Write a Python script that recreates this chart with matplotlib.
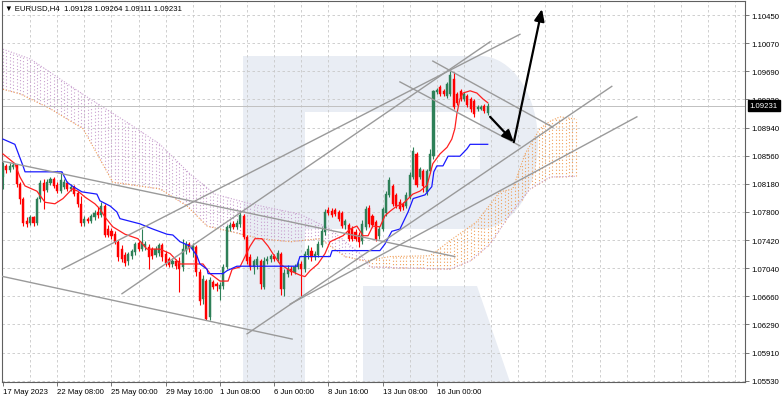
import numpy as np
import matplotlib
matplotlib.use('Agg')
import matplotlib.pyplot as plt
from matplotlib.patches import Rectangle, Polygon, Ellipse
from matplotlib.transforms import blended_transform_factory

plt.rcParams['font.family'] = ['Liberation Sans', 'DejaVu Sans']

# ---------------- data ----------------
opens = [1.0827,1.0842,1.0837,1.0841,1.0843,1.0818,1.0798,1.0768,1.0765,1.0773,
         1.0765,1.0798,1.0819,1.0810,1.0819,1.0824,1.0816,1.0808,1.0814,1.0819,
         1.0811,1.0814,1.0806,1.0791,1.0765,1.0771,1.0768,1.0773,1.0780,1.0776,
         1.0788,1.0757,1.0754,1.0750,1.0740,1.0730,1.0722,1.0714,1.0721,1.0726,
         1.0738,1.0730,1.0733,1.0733,1.0730,1.0722,1.0725,1.0736,1.0724,1.0717,
         1.0710,1.0714,1.0714,1.0706,1.0728,1.0737,1.0730,1.0733,1.0699,1.0663,
         1.0687,1.0639,1.0686,1.0683,1.0676,1.0680,1.0706,1.0758,1.0764,1.0760,
         1.0764,1.0775,1.0746,1.0720,1.0706,1.0709,1.0714,1.0679,1.0714,1.0717,
         1.0721,1.0717,1.0724,1.0676,1.0697,1.0703,1.0699,1.0706,1.0710,1.0703,
         1.0722,1.0728,1.0720,1.0722,1.0736,1.0753,1.0783,1.0781,1.0783,1.0780,
         1.0779,1.0763,1.0763,1.0757,1.0753,1.0749,1.0741,1.0760,1.0785,1.0775,
         1.0767,1.0748,1.0757,1.0779,1.0803,1.0815,1.0803,1.0793,1.0791,1.0788,
         1.0800,1.0827,1.0858,1.0827,1.0835,1.0807,1.0835,1.0855,1.0941,1.0948,
         1.0943,1.0936,1.0939,1.0959,1.0939,1.0943,1.0932,1.0936,1.0932,1.0929,
         1.0919,1.0919,1.0923,1.09128]
highs = [1.0847,1.0845,1.0846,1.0847,1.0845,1.0820,1.0800,1.0773,1.0776,1.0775,
         1.0800,1.0823,1.0824,1.0824,1.0827,1.0827,1.0820,1.0834,1.0824,1.0822,
         1.0818,1.0816,1.0808,1.0802,1.0775,1.0773,1.0777,1.0783,1.0787,1.0793,
         1.0791,1.0763,1.0758,1.0754,1.0742,1.0736,1.0726,1.0726,1.0730,1.0740,
         1.0741,1.0757,1.0741,1.0737,1.0733,1.0734,1.0738,1.0738,1.0728,1.0720,
         1.0718,1.0717,1.0720,1.0744,1.0741,1.0740,1.0738,1.0736,1.0703,1.0695,
         1.0690,1.0693,1.0689,1.0686,1.0686,1.0710,1.0763,1.0767,1.0768,1.0769,
         1.0780,1.0777,1.0749,1.0724,1.0717,1.0721,1.0717,1.0720,1.0721,1.0724,
         1.0724,1.0729,1.0726,1.0703,1.0709,1.0707,1.0710,1.0714,1.0714,1.0728,
         1.0736,1.0733,1.0728,1.0741,1.0760,1.0784,1.0787,1.0785,1.0785,1.0783,
         1.0781,1.0771,1.0765,1.0761,1.0757,1.0753,1.0769,1.0788,1.0789,1.0777,
         1.0769,1.0761,1.0787,1.0808,1.0827,1.0818,1.0806,1.0798,1.0793,1.0807,
         1.0834,1.0867,1.0861,1.0841,1.0838,1.0838,1.0865,1.0944,1.0947,1.0951,
         1.0945,1.0955,1.0970,1.0968,1.0941,1.0945,1.0941,1.0939,1.0935,1.0932,
         1.0924,1.0924,1.0925,1.09264]
lows = [1.0811,1.0832,1.0834,1.0838,1.0814,1.0791,1.0761,1.0760,1.0763,1.0761,
        1.0763,1.0793,1.0784,1.0807,1.0816,1.0812,1.0806,1.0806,1.0811,1.0808,
        1.0808,1.0802,1.0787,1.0761,1.0761,1.0765,1.0765,1.0769,1.0772,1.0773,
        1.0746,1.0746,1.0744,1.0737,1.0714,1.0713,1.0707,1.0709,1.0717,1.0722,
        1.0728,1.0728,1.0729,1.0703,1.0717,1.0720,1.0721,1.0714,1.0707,1.0706,
        1.0706,1.0703,1.0672,1.0701,1.0724,1.0726,1.0720,1.0694,1.0655,1.0656,
        1.0634,1.0634,1.0676,1.0674,1.0662,1.0676,1.0703,1.0754,1.0757,1.0757,
        1.0760,1.0744,1.0710,1.0702,1.0697,1.0703,1.0676,1.0676,1.0710,1.0713,
        1.0714,1.0713,1.0668,1.0667,1.0693,1.0695,1.0697,1.0703,1.0667,1.0699,
        1.0717,1.0714,1.0715,1.0720,1.0733,1.0749,1.0776,1.0773,1.0775,1.0768,
        1.0758,1.0757,1.0741,1.0741,1.0741,1.0733,1.0737,1.0756,1.0760,1.0760,
        1.0741,1.0744,1.0754,1.0775,1.0800,1.0788,1.0785,1.0781,1.0783,1.0785,
        1.0798,1.0824,1.0814,1.0824,1.0807,1.0803,1.0832,1.0851,1.0939,1.0936,
        1.0936,1.0933,1.0936,1.0919,1.0924,1.0929,1.0929,1.0921,1.0915,1.0908,
        1.0916,1.0917,1.0913,1.09111]
closes = [1.0842,1.0837,1.0842,1.0843,1.0818,1.0798,1.0765,1.0764,1.0773,1.0765,
          1.0798,1.0819,1.0808,1.0820,1.0824,1.0815,1.0808,1.0823,1.0820,1.0811,
          1.0814,1.0804,1.0791,1.0765,1.0771,1.0768,1.0775,1.0779,1.0776,1.0788,
          1.0749,1.0749,1.0748,1.0740,1.0720,1.0717,1.0711,1.0724,1.0728,1.0737,
          1.0730,1.0740,1.0737,1.0720,1.0721,1.0730,1.0736,1.0720,1.0711,1.0709,
          1.0714,1.0707,1.0703,1.0730,1.0737,1.0730,1.0734,1.0699,1.0660,1.0690,
          1.0636,1.0689,1.0679,1.0680,1.0682,1.0706,1.0760,1.0763,1.0760,1.0765,
          1.0776,1.0746,1.0714,1.0706,1.0714,1.0717,1.0683,1.0714,1.0717,1.0721,
          1.0717,1.0725,1.0676,1.0698,1.0703,1.0699,1.0706,1.0710,1.0703,1.0724,
          1.0730,1.0720,1.0724,1.0737,1.0754,1.0780,1.0779,1.0776,1.0777,1.0771,
          1.0761,1.0768,1.0744,1.0744,1.0744,1.0740,1.0764,1.0784,1.0764,1.0763,
          1.0744,1.0757,1.0784,1.0804,1.0823,1.0791,1.0788,1.0784,1.0787,1.0803,
          1.0830,1.0862,1.0816,1.0838,1.0815,1.0835,1.0858,1.0943,1.0944,1.0939,
          1.0939,1.0952,1.0964,1.0921,1.0927,1.0932,1.0939,1.0924,1.0919,1.0912,
          1.0921,1.0921,1.0916,1.09231]

# Ichimoku lines (bar index, price)
tenkan_bar = [0,3.5,5,6.5,10,12.4,15.3,17.7,20.4,22.1,24.2,27.1,28.6,30.1,32.4,36,39.8,42.5,46.3,49.3,
              52.2,59,61.1,64,66.4,67.6,69.9,71.4,72.9,74.3,76.4,78.2,79.6,81.7,84.7,87.6,89.1,90.6,
              92.9,95,96.5,100.3,102.4,104.4,106.2,107.7,109.1,111.2,112.7,114.2,116.2,118,120.9,123,
              125.1,126,126.8,128.9,131,132.4,133.3,133.9,134.8,135.7,137.8,139.8,141.6,143]
tenkan_val = [1.0858,1.0845,1.0827,1.0815,1.0808,1.0793,1.0791,1.0798,1.0811,1.0808,1.0800,1.0791,
              1.0784,1.0773,1.0760,1.0750,1.0744,1.0730,1.0730,1.0724,1.0710,1.0710,1.0697,1.0687,
              1.0687,1.0703,1.0706,1.0720,1.0734,1.0744,1.0744,1.0734,1.0724,1.0710,1.0701,1.0695,
              1.0693,1.0701,1.0710,1.0724,1.0740,1.0748,1.0757,1.0761,1.0748,1.0748,1.0761,1.0760,
              1.0775,1.0781,1.0788,1.0791,1.0804,1.0808,1.0816,1.0831,1.0845,1.0858,1.0867,1.0878,
              1.0892,1.0912,1.0932,1.0940,1.0943,1.0940,1.0932,1.0927]
kijun_bar = [0,3.5,5.9,6.5,17.4,18.9,20.4,23.3,27.7,28.6,31.6,33.6,34.5,40.4,44.2,48.4,50.1,52.2,
             55.2,57.2,58.1,60.2,60.5,64.9,66.1,69,86.7,87.6,96.5,97.1,111.2,112.7,114.7,117.1,
             119.5,121,124.5,126.5,127.1,128,129.8,131.3,134.8,136.9,137.8,143]
kijun_val = [1.0878,1.0871,1.0842,1.0834,1.0834,1.0820,1.0815,1.0807,1.0804,1.0795,1.0788,1.0780,
             1.0771,1.0764,1.0757,1.0750,1.0749,1.0740,1.0734,1.0721,1.0710,1.0703,1.0697,1.0697,
             1.0701,1.0707,1.0707,1.0720,1.0720,1.0728,1.0728,1.0737,1.0754,1.0757,1.0780,1.0798,
             1.0803,1.0814,1.0834,1.0842,1.0842,1.0855,1.0855,1.0865,1.0871,1.0871]
spanA_bar = [0,5,13.9,23.6,32.4,46.3,54.3,60.2,67.8,75.8,84.7,93.5,100.9,106.8,114.2,126,132.7,
             139.8,146.6,150.4,154,158.4,161.4,164.3,169]
spanA_val = [1.0945,1.0939,1.0919,1.0892,1.0820,1.0811,1.0788,1.0761,1.0753,1.0744,1.0740,1.0744,
             1.0720,1.0714,1.0720,1.0721,1.0744,1.0767,1.0807,1.0811,1.0858,1.0892,1.0902,1.0908,
             1.0905]
spanB_bar = [0,8,16.8,25.7,37.5,46.3,55.2,62.5,72.9,87.6,96.5,105.3,108.3,131.9,137.8,143.7,
             149.6,155.5,161.4,169]
spanB_val = [1.0999,1.0986,1.0959,1.0932,1.0898,1.0871,1.0831,1.0804,1.0791,1.0777,1.0757,1.0724,
             1.0706,1.0703,1.0714,1.0737,1.0777,1.0811,1.0827,1.0828]

# drawn trend lines: (bar0, price0, bar1, price1)
trend_lines = [(-0.9, 1.0849, 133.3, 1.0720),
               (-0.9, 1.0694, 85.3, 1.0609),
               (17.4, 1.0703, 152.5, 1.1019),
               (35.1, 1.0670, 143.7, 1.1009),
               (72.0, 1.0616, 179.6, 1.0949),
               (84.7, 1.0656, 187.0, 1.0908),
               (126.8, 1.0983, 162.2, 1.0894),
               (117.1, 1.0955, 152.5, 1.0869)]
arrows = [((143.7, 1.0908), (150.7, 1.0874)),
          ((150.7, 1.0874), (159.0, 1.1053))]

price_ticks = ['1.10450','1.10070','1.09690','1.09320','1.08940','1.08560','1.08180',
               '1.07800','1.07420','1.07040','1.06660','1.06290','1.05910','1.05530']
time_tick_bars = [0,16,32,48,64,80,96,112,128]
time_labels = ['17 May 2023','22 May 08:00','25 May 00:00','29 May 16:00','1 Jun 08:00',
               '6 Jun 00:00','8 Jun 16:00','13 Jun 08:00','16 Jun 00:00']
header = '\u25bc EURUSD,H4  1.09128 1.09264 1.09111 1.09231'
last_price = 1.09231

# ---------------- figure ----------------
W, H = 782, 402
fig = plt.figure(figsize=(W/100, H/100), dpi=100)
L_, R_, T_, B_ = 2, 745, 2, 383
ax = fig.add_axes([L_/W, 1 - B_/H, (R_-L_)/W, (B_-T_)/H])
ax.set_xlim(-0.295, 218.9)
ax.set_ylim(1.05512, 1.106384)

# watermark (logo) in axes fraction coordinates
def fx(px): return (px - L_) / (R_ - L_)
def fy(py): return (B_ - py) / (B_ - T_)
wm = '#e9edf4'
ta = ax.transAxes
ax.add_patch(Rectangle((fx(243), fy(383)), fx(305)-fx(243), fy(57)-fy(383), transform=ta,
                       facecolor=wm, edgecolor='none', zorder=0))
ax.add_patch(Rectangle((fx(305), fy(230)), fx(480)-fx(305), fy(57)-fy(230), transform=ta,
                       facecolor=wm, edgecolor='none', zorder=0))
ax.add_patch(Ellipse((fx(480), fy(143.5)), 2*(fx(538)-fx(480)), fy(57)-fy(230), transform=ta,
                     facecolor=wm, edgecolor='none', zorder=0))
ax.add_patch(Rectangle((fx(305), fy(170)), fx(480)-fx(305), fy(113)-fy(170), transform=ta,
                       facecolor='white', edgecolor='none', zorder=0.1))
ax.add_patch(Polygon([(fx(363), fy(287)), (fx(477), fy(287)), (fx(510), fy(383)), (fx(363), fy(383))],
                     closed=True, transform=ta, facecolor=wm, edgecolor='none', zorder=0))

# grid
ytick_vals = np.linspace(1.1045, 1.0553, len(price_ticks))
for v in ytick_vals:
    ax.axhline(v, color='#c8c8c8', lw=0.6, ls=(0, (3, 3)), zorder=0.5)
for b in range(8, 219, 8):
    ax.axvline(b, color='#c8c8c8', lw=0.6, ls=(0, (3, 3)), zorder=0.5)

# cloud
cb = np.arange(0, 170)
sa = np.interp(cb, spanA_bar, spanA_val)
sb = np.interp(cb, spanB_bar, spanB_val)
up = sa >= sb
orange, purple = '#f0a05a', '#c9a0cf'
ax.vlines(cb[up], sb[up], sa[up], colors=orange, lw=0.8, linestyles=(0, (1, 2)), zorder=1)
ax.vlines(cb[~up], sa[~up], sb[~up], colors=purple, lw=0.8, linestyles=(0, (1, 2)), zorder=1)
ax.plot(spanA_bar, spanA_val, color=orange, lw=0.8, ls=(0, (1, 1.5)), zorder=1)
ax.plot(spanB_bar, spanB_val, color=purple, lw=0.8, ls=(0, (1, 1.5)), zorder=1)

# current price line
ax.axhline(last_price, color='#c0c0c0', lw=0.7, zorder=1.5)

# candles
o = np.array(opens); h = np.array(highs); l = np.array(lows); c = np.array(closes)
xb = np.arange(len(o))
bull = c >= o
green, red = '#2e8058', '#ff0000'
ax.vlines(xb[bull], l[bull], h[bull], colors=green, lw=0.8, zorder=3)
ax.vlines(xb[~bull], l[~bull], h[~bull], colors=red, lw=0.8, zorder=3)
ax.bar(xb[bull], c[bull]-o[bull], bottom=o[bull], width=0.62, color=green,
       edgecolor=green, lw=0.3, zorder=3.2)
ax.bar(xb[~bull], c[~bull]-o[~bull], bottom=o[~bull], width=0.62, color=red,
       edgecolor=red, lw=0.3, zorder=3.2)

# tenkan / kijun
ax.plot(tenkan_bar, tenkan_val, color='#ff2020', lw=0.9, zorder=4)
ax.plot(kijun_bar, kijun_val, color='#1a1aff', lw=0.9, zorder=4)

# trend lines
for b0, p0, b1, p1 in trend_lines:
    ax.plot([b0, b1], [p0, p1], color='#9a9a9a', lw=1.0, zorder=5)

# arrows
for (s, e) in arrows:
    ax.annotate('', xy=e, xytext=s,
                arrowprops=dict(arrowstyle='-|>,head_length=0.7,head_width=0.3',
                                color='black', lw=1.6, shrinkA=0, shrinkB=0), zorder=6)

# axes styling
for sp in ax.spines.values():
    sp.set_color('#606060'); sp.set_linewidth(0.8)
ax.yaxis.tick_right()
ax.set_yticks(ytick_vals)
ax.set_yticklabels(price_ticks)
ax.set_xticks(time_tick_bars)
ax.set_xticklabels(time_labels)
ax.tick_params(axis='both', direction='out', length=3, width=0.6, color='#606060',
               labelsize=5.6, pad=1.5)
for lb in ax.get_xticklabels():
    lb.set_horizontalalignment('left')

# last price label
tr = blended_transform_factory(ax.transAxes, ax.transData)
ax.text(1.006, last_price, '1.09231', transform=tr, fontsize=5.6, color='white',
        va='center', ha='left', clip_on=False, zorder=10,
        bbox=dict(boxstyle='square,pad=0.25', facecolor='black', edgecolor='black'))

fig.text(5/W, 1 - 9/H, header, fontsize=5.6, va='center', ha='left', color='black')

fig.savefig('out.png', dpi=100)
